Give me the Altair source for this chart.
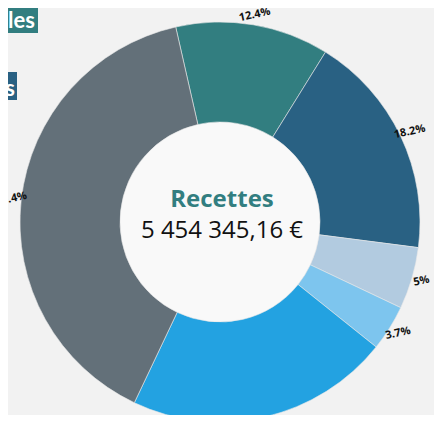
import math
import altair as alt
import pandas as pd

# Data
categories = ["Catégorie 1", "Catégorie 2", "Catégorie 3", "Catégorie 4", "Catégorie 5", "Catégorie 6"]
values = [12.4, 18.2, 5.0, 3.7, 21.3, 39.4]
labels = ["12.4%", "18.2%", "5%", "3.7%", "21.3%", "39.4%"]
colors = ["#327e80", "#296183", "#b2cbe0", "#7dc5ee", "#23a2e1", "#637079"]
center_title = ["Recettes"]
center_value = ["5 454 345,16 €"]
legend_fragments = ["lles", "es"]
legend_colors = ["#327e80", "#296183"]

df = pd.DataFrame({"cat": categories, "value": values, "label": labels,
                   "order": list(range(len(categories)))})

start = math.radians(-12.8)
theta_scale = alt.Scale(range=[start, start + 2 * math.pi])

CX, CY = 212, 214

base = alt.Chart(df).encode(
    theta=alt.Theta("value:Q", stack=True, scale=theta_scale),
    order=alt.Order("order:Q"),
    x=alt.value(CX),
    y=alt.value(CY),
)

inner = alt.Chart(pd.DataFrame({"v": [1]})).mark_arc(
    innerRadius=0, outerRadius=100, fill="#f9f9f9"
).encode(theta=alt.value(0), theta2=alt.value(2 * math.pi), x=alt.value(CX), y=alt.value(CY))

arcs = base.mark_arc(innerRadius=100, outerRadius=200, stroke="#e8e8e8", strokeWidth=0.6).encode(
    color=alt.Color("cat:N", scale=alt.Scale(domain=categories, range=colors), legend=None)
)

pct = base.mark_text(radius=210, angle=348, font="Open Sans", fontWeight="bold",
                     fontSize=11, color="#111111").encode(text="label:N")

title = alt.Chart(pd.DataFrame({"t": center_title})).mark_text(
    font="Open Sans", fontWeight="bold", fontSize=24, color="#327e80", baseline="middle"
).encode(text="t:N", x=alt.value(CX + 2), y=alt.value(CY - 22))

amount = alt.Chart(pd.DataFrame({"t": center_value})).mark_text(
    font="Open Sans", fontSize=24, color="#111111", baseline="middle"
).encode(text="t:N", x=alt.value(CX + 2), y=alt.value(CY + 9))

box1 = alt.Chart(pd.DataFrame({"v": [1]})).mark_rect(color=legend_colors[0]).encode(
    x=alt.value(-8), x2=alt.value(30), y=alt.value(-2), y2=alt.value(25))
box2 = alt.Chart(pd.DataFrame({"v": [1]})).mark_rect(color=legend_colors[1]).encode(
    x=alt.value(-8), x2=alt.value(9), y=alt.value(64), y2=alt.value(92))
leg1 = alt.Chart(pd.DataFrame({"t": [legend_fragments[0]]})).mark_text(
    font="Lato", fontWeight="bold", fontSize=22, color="white", align="right", baseline="alphabetic"
).encode(text="t:N", x=alt.value(27), y=alt.value(20))
leg2 = alt.Chart(pd.DataFrame({"t": [legend_fragments[1]]})).mark_text(
    font="Lato", fontWeight="bold", fontSize=22, color="white", align="right", baseline="alphabetic"
).encode(text="t:N", x=alt.value(7), y=alt.value(88))

chart = alt.layer(inner, arcs, pct, title, amount, box1, box2, leg1, leg2).properties(
    width=426, height=407, autosize=alt.AutoSizeParams(type="none"), padding=0,
    background="#f2f2f2",
).configure_view(stroke=None)

chart.save("out.html", embed_options={"renderer": "svg", "actions": False})
